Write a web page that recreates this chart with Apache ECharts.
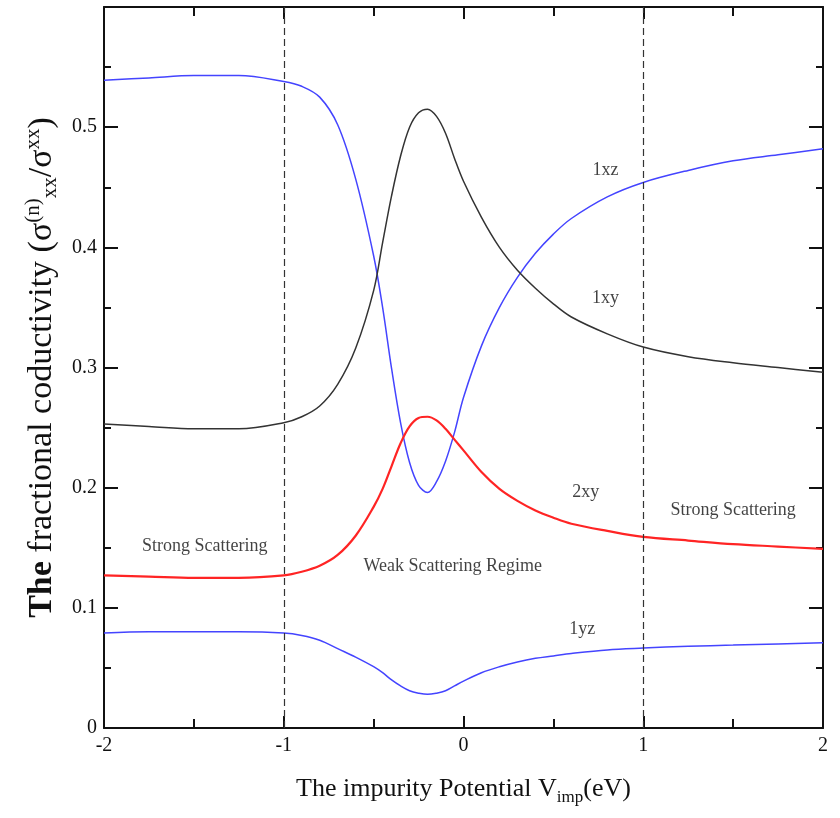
<!DOCTYPE html>
<html>
<head>
<meta charset="utf-8">
<script src="https://cdn.jsdelivr.net/npm/echarts@6/dist/echarts.min.js"></script>
<style>
  html, body { margin: 0; padding: 0; background: #fff; }
  #chart { width: 840px; height: 818px; }
</style>
</head>
<body>
<div id="chart"></div>
<script>
// 横坐标 V_imp (eV)
const vImp = [-2, -1.75, -1.5, -1.25, -1, -0.9, -0.8, -0.7, -0.6, -0.5, -0.45, -0.4, -0.35, -0.3, -0.25,
  -0.2, -0.15, -0.1, -0.05, 0, 0.1, 0.2, 0.3, 0.4, 0.5, 0.6, 0.8, 1.0, 1.25, 1.5, 1.75, 2.0];

// 各分量的比例电导
const s1xz = [0.539, 0.541, 0.543, 0.543, 0.538, 0.534, 0.525, 0.502, 0.457, 0.393, 0.350, 0.299, 0.254, 0.221, 0.202,
  0.196, 0.205, 0.222, 0.246, 0.275, 0.318, 0.350, 0.375, 0.395, 0.411, 0.424, 0.442, 0.454, 0.464, 0.472, 0.477, 0.482];
const s1xy = [0.253, 0.251, 0.249, 0.249, 0.254, 0.259, 0.268, 0.286, 0.316, 0.364, 0.404, 0.443, 0.476, 0.500, 0.512,
  0.515, 0.509, 0.495, 0.474, 0.455, 0.425, 0.400, 0.381, 0.366, 0.353, 0.342, 0.328, 0.317, 0.309, 0.304, 0.300, 0.296];
const s2xy = [0.127, 0.126, 0.125, 0.125, 0.127, 0.130, 0.135, 0.144, 0.160, 0.184, 0.199, 0.218, 0.237, 0.251, 0.258,
  0.259, 0.256, 0.249, 0.240, 0.231, 0.213, 0.199, 0.189, 0.181, 0.175, 0.170, 0.164, 0.159, 0.156, 0.153, 0.151, 0.149];
const s1yz = [0.079, 0.080, 0.080, 0.080, 0.079, 0.077, 0.073, 0.066, 0.059, 0.051, 0.046, 0.040, 0.035, 0.031, 0.029,
  0.028, 0.029, 0.031, 0.035, 0.039, 0.046, 0.051, 0.055, 0.058, 0.060, 0.062, 0.065, 0.0665, 0.068, 0.069, 0.070, 0.071];

// 区域分界线（虚线）
const regimeBounds = [-1, 1];

// 图中文字标注
const noteTexts = ['1xz', '1xy', '2xy', '1yz', 'Strong Scattering', 'Weak Scattering Regime', 'Strong Scattering'];
const noteX = [0.79, 0.79, 0.68, 0.66, -1.44, -0.06, 1.50];
const noteY = [0.464, 0.358, 0.196, 0.082, 0.151, 0.135, 0.181];

const serif = 'Liberation Serif';

function pairs(ys) {
  return vImp.map((x, i) => [x, ys[i]]);
}

function curve(name, ys, color, width) {
  return {
    name: name,
    type: 'line',
    data: pairs(ys),
    smooth: 0.35,
    showSymbol: false,
    lineStyle: { color: color, width: width },
    z: 3
  };
}

const xBase = {
  type: 'value', min: -2, max: 2, interval: 1,
  axisLine: { onZero: false, lineStyle: { color: '#111', width: 2 } },
  axisTick: { inside: true, length: 12, lineStyle: { color: '#111', width: 2 } },
  minorTick: { show: true, splitNumber: 2, length: 9, lineStyle: { color: '#111', width: 2 } },
  splitLine: { show: false }
};
const yBase = {
  type: 'value', min: 0, max: 0.6, interval: 0.1,
  axisLine: { onZero: false, lineStyle: { color: '#111', width: 2 } },
  axisTick: { inside: true, length: 14, lineStyle: { color: '#111', width: 2 } },
  minorTick: { show: true, splitNumber: 2, length: 7, lineStyle: { color: '#111', width: 2 } },
  splitLine: { show: false }
};

function chart() {
  const myChart = echarts.init(document.getElementById('chart'));

  const option = {
    animation: false,
    backgroundColor: '#fff',
    grid: { left: 104, right: 17, top: 7, bottom: 90 },
    xAxis: [
      Object.assign({}, xBase, {
        position: 'bottom',
        axisLabel: { color: '#111', fontFamily: serif, fontSize: 20, margin: 8 },
        name: '{t|The impurity Potential V}{s|imp}{t|(eV)}',
        nameLocation: 'middle',
        nameGap: 48,
        nameTextStyle: {
          rich: {
            t: { fontFamily: serif, fontSize: 26, color: '#111', verticalAlign: 'top', lineHeight: 30 },
            s: { fontFamily: serif, fontSize: 17, color: '#111', verticalAlign: 'bottom', lineHeight: 30, padding: [12, 0, 0, 0] }
          }
        }
      }),
      Object.assign({}, xBase, { position: 'top', axisLabel: { show: false } })
    ],
    yAxis: [
      Object.assign({}, yBase, {
        position: 'left',
        axisLabel: {
          color: '#111', fontFamily: serif, fontSize: 20, margin: 7,
          formatter: v => (v > 0.55 ? '' : String(+v.toFixed(1)))
        },
        name: '{b|The}{t| fractional coductivity (σ}{sup|(n)}{sub|xx}{t|/σ}{sup|xx}{t|)}',
        nameLocation: 'middle',
        nameGap: 39,
        nameRotate: 90,
        nameTextStyle: {
          rich: {
            b: { fontFamily: serif, fontSize: 34, fontWeight: 'bold', color: '#111', lineHeight: 38 },
            t: { fontFamily: serif, fontSize: 34, color: '#111', lineHeight: 38 },
            sup: { fontFamily: serif, fontSize: 21, color: '#111', verticalAlign: 'top', lineHeight: 38, padding: [0, 0, 12, 0] },
            sub: { fontFamily: serif, fontSize: 21, color: '#111', verticalAlign: 'bottom', lineHeight: 38, padding: [10, 0, 0, 0] }
          }
        }
      }),
      Object.assign({}, yBase, { position: 'right', axisLabel: { show: false } })
    ],
    series: [
      curve('1xz', s1xz, '#4444ff', 1.5),
      curve('1xy', s1xy, '#333333', 1.5),
      curve('2xy', s2xy, '#ff2424', 2.2),
      curve('1yz', s1yz, '#4444ff', 1.5),
      {
        name: 'notes',
        type: 'scatter',
        symbolSize: 0,
        data: noteTexts.map((t, i) => ({ name: t, value: [noteX[i], noteY[i]] })),
        label: {
          show: true,
          position: 'inside',
          formatter: p => p.name,
          fontFamily: serif,
          fontSize: 18,
          color: '#111'
        },
        markLine: {
          silent: true,
          symbol: 'none',
          label: { show: false },
          lineStyle: { color: '#333', type: [7, 4], width: 1.2 },
          data: regimeBounds.map(v => ({ xAxis: v }))
        },
        z: 4
      }
    ]
  };

  option && myChart.setOption(option);
}

chart();
</script>
</body>
</html>
